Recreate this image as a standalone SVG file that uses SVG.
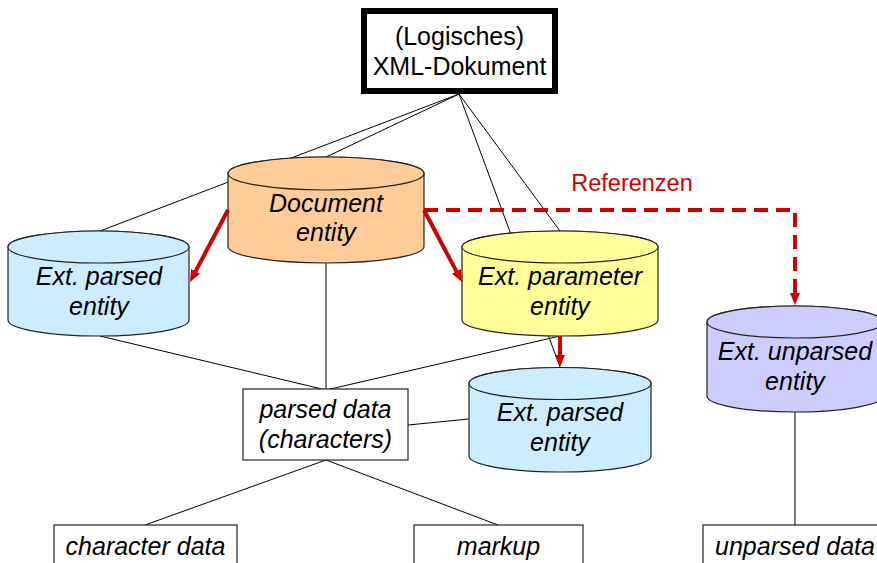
<svg xmlns="http://www.w3.org/2000/svg" width="877" height="563" viewBox="0 0 877 563">
<style>
.t{font-family:"Liberation Sans",Arial,sans-serif;font-size:25px;fill:#000;text-anchor:middle}
.i{font-style:italic}
.cyl{stroke:#222;stroke-width:1.2}
.box{fill:#fff;stroke:#222;stroke-width:1.2}
.ln{stroke:#000;stroke-width:1;fill:none}
.red{stroke:#CC0000;stroke-width:4;fill:none}
</style>
<defs>
<marker id="ah" viewBox="0 0 12 10" refX="4" refY="5" markerWidth="12" markerHeight="10" markerUnits="userSpaceOnUse" orient="auto">
<path d="M0,0 L12,5 L0,10 z" fill="#CC0000"/>
</marker>
</defs>
<rect width="877" height="563" fill="#fff"/>
<g id="connectors">
<line class="ln" x1="459" y1="94" x2="100" y2="231"/>
<line class="ln" x1="459" y1="94" x2="326" y2="157"/>
<line class="ln" x1="459" y1="94" x2="560" y2="231"/>
<line class="ln" x1="459" y1="94" x2="560" y2="367"/>
<line class="ln" x1="326" y1="262" x2="326" y2="390"/>
<line class="ln" x1="100" y1="336" x2="326" y2="390"/>
<line class="ln" x1="560" y1="336" x2="326" y2="390"/>
<line class="ln" x1="408" y1="425" x2="469" y2="419"/>
<line class="ln" x1="326" y1="460" x2="145" y2="525"/>
<line class="ln" x1="326" y1="460" x2="498" y2="525"/>
<line class="ln" x1="795" y1="412" x2="795" y2="525"/>
</g>
<g id="n-top">
<rect x="364" y="11" width="191" height="80" fill="#fff" stroke="#000" stroke-width="6"/>
<text class="t" x="459.5" y="45">(Logisches)</text>
<text class="t" x="459.5" y="75">XML-Dokument</text>
</g>
<g id="n-doc">
<path class="cyl" fill="#FFCC99" d="M228,173.5 A98,16.5 0 0 1 424,173.5 L424,246.5 A98,16.5 0 0 1 228,246.5 Z"/>
<ellipse class="cyl" fill="#FFCC99" cx="326" cy="173.5" rx="98" ry="16.5"/>
<text class="t i" x="326" y="212">Document</text>
<text class="t i" x="326" y="241">entity</text>
</g>
<g id="n-extparsed1">
<path class="cyl" fill="#CCECFF" d="M8,247 A90.5,16 0 0 1 189,247 L189,320 A90.5,16 0 0 1 8,320 Z"/>
<ellipse class="cyl" fill="#CCECFF" cx="98.5" cy="247" rx="90.5" ry="16"/>
<text class="t i" x="99" y="285">Ext. parsed</text>
<text class="t i" x="99" y="315">entity</text>
</g>
<g id="n-extparam">
<path class="cyl" fill="#FFFF99" d="M462,247 A98,16 0 0 1 658,247 L658,320 A98,16 0 0 1 462,320 Z"/>
<ellipse class="cyl" fill="#FFFF99" cx="560" cy="247" rx="98" ry="16"/>
<text class="t i" x="560" y="285">Ext. parameter</text>
<text class="t i" x="560" y="315">entity</text>
</g>
<g id="n-extparsed2">
<path class="cyl" fill="#CCECFF" d="M469,383.5 A91,16 0 0 1 651,383.5 L651,456 A91,16 0 0 1 469,456 Z"/>
<ellipse class="cyl" fill="#CCECFF" cx="560" cy="383.5" rx="91" ry="16"/>
<text class="t i" x="560" y="421">Ext. parsed</text>
<text class="t i" x="560" y="451">entity</text>
</g>
<g id="n-unparsed">
<path class="cyl" fill="#CCCCFF" d="M707,322 A88,16 0 0 1 883,322 L883,396 A88,16 0 0 1 707,396 Z"/>
<ellipse class="cyl" fill="#CCCCFF" cx="795" cy="322" rx="88" ry="16"/>
<text class="t i" x="795" y="360">Ext. unparsed</text>
<text class="t i" x="795" y="390">entity</text>
</g>
<g id="n-parseddata">
<rect class="box" x="243" y="389" width="165" height="71"/>
<text class="t i" x="325.5" y="418">parsed data</text>
<text class="t i" x="325.5" y="448">(characters)</text>
</g>
<g id="n-chardata">
<rect class="box" x="54" y="525" width="183" height="50"/>
<text class="t i" x="145.5" y="555">character data</text>
</g>
<g id="n-markup">
<rect class="box" x="414" y="525" width="169" height="50"/>
<text class="t i" x="498.5" y="555">markup</text>
</g>
<g id="n-unparseddata">
<rect class="box" x="703" y="525" width="190" height="50"/>
<text class="t i" x="795" y="555">unparsed data</text>
</g>
<g id="references">
<line class="red" x1="228" y1="210" x2="193.7" y2="274.9" marker-end="url(#ah)"/>
<line class="red" x1="424" y1="210" x2="458.3" y2="274.9" marker-end="url(#ah)"/>
<line class="red" x1="560" y1="336" x2="560" y2="359" marker-end="url(#ah)"/>
<path class="red" d="M424,210 H795 V297" stroke-dasharray="14,8" marker-end="url(#ah)"/>
<text x="632" y="191" font-family="Liberation Sans, Arial, sans-serif" font-size="23.5" fill="#CC0000" text-anchor="middle">Referenzen</text>
</g>
</svg>
